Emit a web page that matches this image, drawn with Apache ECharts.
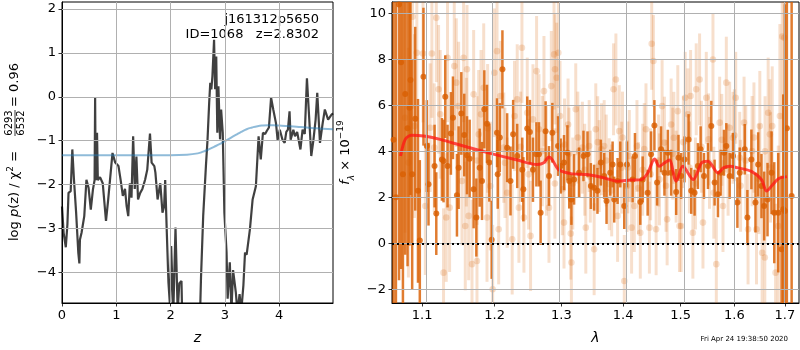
<!DOCTYPE html>
<html><head><meta charset="utf-8">
<script src="https://cdn.jsdelivr.net/npm/echarts@6/dist/echarts.min.js"></script>
<style>html,body{margin:0;padding:0;background:#fff}#c{width:800px;height:350px}</style>
</head><body><div id="c"></div>
<script>
// ---------- left panel: log p(z) ----------
const zValues = [0.00,0.03,0.07,0.10,0.12,0.16,0.19,0.22,0.26,0.30,0.32,0.33,0.36,0.41,0.45,0.49,0.53,0.57,0.60,0.61,0.62,0.645,0.66,0.70,0.75,0.81,0.85,0.93,0.98,1.04,1.08,1.12,1.16,1.19,1.22,1.25,1.28,1.31,1.34,1.37,1.40,1.44,1.48,1.53,1.57,1.62,1.65,1.70,1.72,1.76,1.81,1.85,1.88,1.90,1.93,1.96,1.99,2.01,2.05,2.09,2.13,2.16,2.20,2.23,2.52,2.56,2.60,2.65,2.68,2.71,2.73,2.75,2.77,2.80,2.82,2.84,2.86,2.88,2.91,2.93,2.96,2.99,3.03,3.05,3.09,3.12,3.15,3.20,3.23,3.27,3.30,3.34,3.37,3.40,3.46,3.51,3.57,3.62,3.66,3.70,3.74,3.77,3.81,3.85,3.89,3.94,3.97,4.01,4.06,4.10,4.13,4.16,4.19,4.21,4.26,4.29,4.33,4.39,4.43,4.47,4.51,4.55,4.59,4.63,4.67,4.70,4.75,4.80,4.84,4.90,4.96,4.99];
const logPz = [-2.5,-3.1,-3.43,-2.9,-2.19,-2.15,-1.2,-1.88,-2.64,-3.55,-3.8,-3.26,-3.1,-2.72,-1.89,-2.08,-2.57,-2.11,-1.9,-0.03,-1.9,-0.82,-1.9,-1.83,-1.97,-2.83,-2.35,-1.28,-1.5,-1.58,-1.9,-2.26,-2.1,-2.49,-2.72,-1.97,-2.3,-0.9,-2.1,-1.36,-2.34,-2.19,-2.1,-1.89,-1.66,-0.84,-1.5,-1.58,-1.73,-2.34,-1.97,-2.64,-2.5,-1.9,-3.1,-4.23,-4.8,-3.4,-4.9,-2.98,-4.9,-4.25,-4.2,-6,-6,-4.1,-2.71,-1.58,-0.97,-0.14,0.32,0.17,0.47,1.30,0.17,0.92,-0.82,0.24,-0.97,-0.29,-0.82,-2.64,-3.55,-4.6,-3.77,-4.9,-3.95,-4.45,-4.9,-4.5,-4.9,-4.3,-3.55,-3.6,-3.02,-2.34,-2.04,-0.9,-1.43,-0.82,-0.85,-0.78,-0.7,-0.02,-0.29,-0.6,-0.98,-0.75,-0.98,-1.05,-0.8,-0.75,-0.33,-0.98,-0.75,-0.9,-0.8,-1.2,-0.75,-0.85,0.42,-0.45,-1.35,-0.98,-0.52,0.09,-1.05,-0.6,-0.29,-0.52,-0.41,-0.38];
const zPrior = [0,0.5,1,1.5,2,2.3,2.5,2.6,2.7,2.8,2.9,3.0,3.1,3.2,3.3,3.4,3.5,3.6,3.7,3.8,3.9,4.0,4.2,4.4,4.6,4.8,4.99];
const logPrior = [-1.33,-1.33,-1.33,-1.33,-1.33,-1.32,-1.29,-1.25,-1.2,-1.14,-1.08,-1.01,-0.94,-0.87,-0.8,-0.74,-0.7,-0.67,-0.655,-0.65,-0.65,-0.655,-0.67,-0.69,-0.71,-0.73,-0.74];
const zTicks = [0,1,2,3,4];
const pzTicks = [-4,-3,-2,-1,0,1,2];

// ---------- right panel: spectrum ----------
const lamTicks = [1.1,1.2,1.3,1.4,1.5,1.6,1.7];
const fluxTicks = [-2,0,2,4,6,8,10];
const darkLam = [1.063,1.066,1.070,1.0726,1.075,1.078,1.081,1.0835,1.0848,1.087,1.0910,1.0946,1.097,1.1018,1.1063,1.1085,1.1166,1.1189,1.1265,1.1287,1.1310,1.1341,1.1387,1.1415,1.1470,1.1493,1.1530,1.1571,1.1609,1.1646,1.1702,1.1740,1.1787,1.1820,1.1853,1.1891,1.1924,1.1958,1.2035,1.2045,1.2075,1.2113,1.2182,1.2231,1.2270,1.2330,1.2405,1.2421,1.2479,1.2519,1.2565,1.2617,1.2656,1.2681,1.2757,1.2809,1.2861,1.2949,1.2990,1.3042,1.3095,1.3124,1.3158,1.3201,1.3280,1.3350,1.3415,1.3469,1.3522,1.3576,1.3631,1.3686,1.3725,1.3786,1.3825,1.3852,1.3908,1.3953,1.4020,1.4065,1.4161,1.4201,1.4292,1.4333,1.4419,1.4478,1.4536,1.4583,1.4653,1.4712,1.4772,1.4831,1.4921,1.4962,1.5010,1.5071,1.5144,1.5193,1.5254,1.5315,1.5365,1.5427,1.5501,1.5563,1.5625,1.5688,1.5739,1.5802,1.5846,1.5910,1.5974,1.6058,1.6103,1.6200,1.6252,1.6330,1.6410,1.6463,1.6529,1.6582,1.6649,1.6730,1.6784,1.6865,1.6932,1.6966,1.7000,1.7040,1.7138];
const darkFlux = [4.5,2.0,10.39,7.88,3.0,6.5,5.0,5.9,7.1,3.0,5.42,2.28,0.12,7.25,4.23,2.57,3.36,1.29,3.65,3.58,6.38,3.36,4.78,5.46,2.09,3.29,5.65,4.71,3.83,3.68,2.35,1.12,3.29,2.71,5.83,5.2,3.51,0.15,4.81,3.0,4.6,7.57,4.16,2.71,4.74,3.8,3.2,2.35,4.99,4.84,3.2,3.87,3.87,1.33,4.88,2.93,4.81,4.23,3.36,3.51,3.94,2.71,1.9,2.78,3.07,3.8,3.87,2.49,2.42,2.28,3.51,2.93,1.84,3.07,3.43,1.9,2.71,3.43,1.62,3.43,2.78,3.8,1.8,2.78,2.2,3.87,5.13,2.64,4.09,3.07,3.94,3.07,2.23,3.72,2.93,3.65,4.52,2.28,2.2,3.36,4.09,2.93,3.36,5.1,2.64,2.13,3.07,3.94,4.23,2.93,3.8,1.77,3.07,4.09,1.12,3.65,1.77,3.43,2.49,1.62,1.9,3.07,1.33,1.33,-0.26,1.48,1.4,5.0,2.06];
const darkErr = [9,9,12,9,8,7,6,6,5,5,4,4,3.5,3,2,1.8,1.8,1.8,1.8,1.8,1.8,1.8,1.8,1.8,1.8,1.8,1.8,1.8,1.7,1.7,1.7,1.7,1.7,1.7,1.7,1.7,1.7,1.7,1.5,1.5,1.5,1.7,1.5,1.5,1.5,1.4,1.4,1.4,1.4,1.4,1.4,1.4,1.4,1.4,1.3,1.3,1.3,1.3,1.2,1.2,1.2,1.2,1.1,1.1,1.1,1.1,1.0,1.0,1.0,1.0,1.0,1.0,1.0,1.0,1.0,1.0,1.0,1.0,1.0,1.0,1.0,1.0,1.0,1.0,1.0,1.0,1.1,1.0,1.0,1.0,1.0,1.0,1.0,1.0,1.0,1.0,1.1,1.0,1.0,1.0,1.0,1.0,1.0,1.1,1.0,1.0,1.0,1.0,1.0,1.0,1.0,1.1,1.1,1.1,1.2,1.3,1.3,1.4,1.4,1.5,1.6,1.8,2.2,2.6,3.2,5,9,12,12,10];
const lightLam = [1.0777,1.0821,1.0874,1.0900,1.0931,1.1012,1.1043,1.1107,1.1130,1.1162,1.1189,1.1220,1.1242,1.1287,1.1323,1.1341,1.1369,1.1433,1.1461,1.1493,1.1539,1.1562,1.1585,1.1609,1.1632,1.1679,1.1702,1.1749,1.1773,1.1806,1.1844,1.1891,1.1939,1.1972,1.1996,1.2035,1.2059,1.2084,1.2133,1.2182,1.2256,1.2290,1.2330,1.2355,1.2400,1.2430,1.2479,1.2529,1.2565,1.2620,1.2656,1.2707,1.2732,1.2809,1.2845,1.2887,1.2902,1.2928,1.2954,1.2980,1.3016,1.3042,1.3106,1.3148,1.3158,1.3227,1.3280,1.3333,1.3388,1.3442,1.3522,1.3549,1.3604,1.3642,1.3686,1.3769,1.3841,1.3880,1.3908,1.3936,1.3976,1.4020,1.4065,1.4105,1.4144,1.4190,1.4235,1.4292,1.4333,1.4390,1.4449,1.4489,1.4519,1.4566,1.4624,1.4671,1.4712,1.4760,1.4831,1.4879,1.4950,1.4980,1.5010,1.5083,1.5132,1.5181,1.5223,1.5284,1.5346,1.5408,1.5470,1.5513,1.5594,1.5657,1.5720,1.5783,1.5846,1.5910,1.5974,1.6026,1.6103,1.6187,1.6265,1.6344,1.6430,1.6496,1.6542,1.6595,1.6662,1.6696,1.6743,1.6811,1.6865,1.6898,1.6946,1.6987,
  1.160,1.175,1.190,1.215,1.238,1.250,1.277,1.290,1.305,1.312,1.318,1.326,1.337,1.346,1.358,1.372,1.381,1.399,1.408,1.426,1.436,1.447,1.461,1.474,1.486,1.492,1.505,1.516,1.527,1.538,1.553,1.561,1.576,1.588,1.600,1.612,1.622,1.638,1.648,1.660,1.671];
const lightFlux = [5.46,3.51,9.86,5.1,8.29,8.26,1.62,5.03,8.26,4.16,9.81,6.7,5.61,-1.28,1.12,8.07,1.55,7.71,6.99,5.97,2.71,8.07,0.75,7.57,1.19,-0.91,6.48,-0.77,4.74,5.61,6.77,1.12,2.49,-2.0,7.42,8.36,0.61,6.41,4.16,2.2,0.17,5.54,6.26,1.55,8.51,1.12,5.68,0.32,5.39,7.49,4.96,4.01,6.62,1.55,6.84,8.22,7.57,7.2,8.29,5.54,2.35,0.9,5.17,0.42,-0.84,5.83,4.01,4.16,0.68,4.23,-0.26,4.96,3.36,4.09,4.23,2.57,6.7,7.13,1.19,4.88,3.29,-1.64,2.49,3.8,0.68,1.62,4.23,0.46,3.2,4.96,0.68,8.68,7.93,0.61,2.78,5.97,4.38,1.04,5.17,4.59,5.75,0.75,0.75,6.33,5.61,6.41,0.46,6.7,7.13,0.9,6.33,4.52,8.0,-0.91,5.25,1.62,6.99,5.03,4.59,6.33,3.72,5.25,0.61,4.01,0.61,5.1,-0.41,-0.62,5.68,4.74,5.1,-1.28,0.75,5.54,9.0,8.94,
  4.4,3.6,5.0,3.5,4.2,3.0,3.6,2.6,4.3,3.9,2.6,4.6,3.2,2.9,4.4,3.6,2.3,4.6,3.3,2.4,4.1,3.0,3.6,2.5,3.9,2.9,4.4,3.3,2.6,4.2,3.5,2.2,4.5,3.2,4.7,2.5,3.6,4.6,2.8,4.0,3.3];
const lightErr = [5,5,4,4,3,3,3,2.8,2.8,2.8,2.8,2.8,2.8,2.8,2.8,2.8,2.8,2.8,2.8,2.8,2.8,2.8,2.8,2.8,2.8,2.8,2.8,2.8,2.8,2.8,2.8,2.8,2.8,2.8,2.8,2.4,2.4,2.4,2.4,2.4,2.4,2.4,2.4,2.4,2.4,2.4,2.4,2.4,2.4,2.4,2.4,2.4,2.4,2.4,2.4,2.4,2.4,2.4,2.4,2.4,2.0,2.0,2.0,2.0,2.0,2.0,2.0,2.0,2.0,2.0,2.0,2.0,2.0,2.0,2.0,2.0,2.0,2.0,2.0,2.0,2.0,2.0,2.0,2.0,2.0,2.0,2.0,2.0,2.0,2.0,2.0,2.0,2.0,2.0,2.0,2.0,2.0,2.0,2.0,2.0,2.0,2.0,2.0,2.0,2.0,2.0,2.0,2.0,2.0,2.0,2.0,2.0,2.0,2.0,2.0,2.0,2.0,2.0,2.0,2.0,2.0,2.0,2.4,2.4,2.4,2.4,2.4,2.4,2.4,2.4,2.6,3,3.5,4,5,6,
  2.8,2.8,2.8,2.4,2.4,2.4,2.4,2.4,2.0,2.0,2.0,2.0,2.0,2.0,2.0,2.0,2.0,2.0,2.0,2.0,2.0,2.0,2.0,2.0,2.0,2.0,2.0,2.0,2.0,2.0,2.0,2.0,2.0,2.0,2.0,2.0,2.4,2.4,2.4,2.4,2.4];
const modelLam = [1.072,1.078,1.086,1.102,1.124,1.156,1.194,1.233,1.263,1.273,1.281,1.286,1.296,1.315,1.341,1.369,1.391,1.413,1.431,1.442,1.454,1.462,1.471,1.480,1.492,1.504,1.523,1.538,1.550,1.569,1.579,1.591,1.607,1.633,1.653,1.663,1.673,1.687,1.704];
const modelFlux = [3.80,4.52,4.70,4.67,4.52,4.23,3.91,3.62,3.43,3.50,3.75,3.63,3.20,3.03,2.99,2.84,2.70,2.75,2.77,3.06,3.67,3.35,3.49,3.62,2.70,3.35,2.77,3.49,3.57,3.06,3.28,3.35,3.28,3.13,2.77,2.27,2.49,2.81,2.90];

const FONT = 'DejaVu Sans';
const minus = v => (v < 0 ? '\u2212' + Math.abs(v) : String(v));

function errRender(barW, radius, color) {
  return function (params, api) {
    const x = api.value(0), y = api.value(1), e = api.value(2);
    const top = api.coord([x, y + e]);
    const bot = api.coord([x, y - e]);
    const ctr = api.coord([x, y]);
    const cs = params.coordSys;
    const clip = { x: cs.x, y: cs.y, width: cs.width, height: cs.height };
    const rect = echarts.graphic.clipRectByRect(
      { x: top[0] - barW / 2, y: top[1], width: barW, height: bot[1] - top[1] }, clip);
    const children = [];
    if (rect) children.push({ type: 'rect', shape: rect, style: { fill: color } });
    if (ctr[1] >= cs.y && ctr[1] <= cs.y + cs.height)
      children.push({ type: 'circle', shape: { cx: ctr[0], cy: ctr[1], r: radius }, style: { fill: color } });
    return { type: 'group', children };
  };
}

const axisCommon = {
  axisLine: { show: true, onZero: false, lineStyle: { color: '#000', width: 1 } },
  axisTick: { show: true, length: 3.5, lineStyle: { color: '#000', width: 0.8 } },
  splitLine: { show: false },
  axisLabel: { color: '#000', fontFamily: FONT, fontSize: 13, margin: 6 }
};
const gridLineStyle = { color: '#b0b0b0', width: 1, type: 'solid' };

const chart = echarts.init(document.getElementById('c'), null, { renderer: 'canvas' });
const option = {
  animation: false,
  backgroundColor: '#fff',
  grid: [
    { left: 62, top: 2, width: 271, height: 302, show: true, borderColor: '#000', borderWidth: 1, backgroundColor: 'transparent' },
    { left: 392, top: 2, width: 407, height: 302, show: true, borderColor: '#000', borderWidth: 1, backgroundColor: 'transparent' }
  ],
  xAxis: [
    Object.assign({}, axisCommon, {
      type: 'value', gridIndex: 0, min: 0, max: 4.99,
      axisLabel: Object.assign({}, axisCommon.axisLabel, { customValues: zTicks, formatter: minus }),
      axisTick: Object.assign({}, axisCommon.axisTick, { customValues: zTicks }),
      name: 'z', nameLocation: 'middle', nameGap: 28,
      nameTextStyle: { fontFamily: FONT, fontSize: 14, fontStyle: 'italic', color: '#000' }
    }),
    Object.assign({}, axisCommon, {
      type: 'value', gridIndex: 1, min: Math.log(1.061), max: Math.log(1.729),
      axisLabel: Object.assign({}, axisCommon.axisLabel, { customValues: lamTicks.map(Math.log), formatter: v => Math.exp(v).toFixed(1) }),
      axisTick: Object.assign({}, axisCommon.axisTick, { customValues: lamTicks.map(Math.log) }),
      name: 'λ', nameLocation: 'middle', nameGap: 28,
      nameTextStyle: { fontFamily: FONT, fontSize: 14, fontStyle: 'italic', color: '#000' }
    })
  ],
  yAxis: [
    Object.assign({}, axisCommon, {
      type: 'value', gridIndex: 0, min: -4.7, max: 2.16,
      axisLabel: Object.assign({}, axisCommon.axisLabel, { customValues: pzTicks, formatter: minus }),
      axisTick: Object.assign({}, axisCommon.axisTick, { customValues: pzTicks })
    }),
    Object.assign({}, axisCommon, {
      type: 'value', gridIndex: 1, min: -2.6, max: 10.5,
      axisLabel: Object.assign({}, axisCommon.axisLabel, { customValues: fluxTicks, formatter: minus }),
      axisTick: Object.assign({}, axisCommon.axisTick, { customValues: fluxTicks }),
      name: '{i|f}{sub|λ}{n| × 10}{sup|\u221219}', nameLocation: 'middle', nameRotate: 90, nameGap: 34,
      nameTextStyle: {
        color: '#000', fontFamily: FONT,
        rich: {
          i: { fontFamily: FONT, fontSize: 13, fontStyle: 'italic', color: '#000', lineHeight: 20, verticalAlign: 'middle' },
          n: { fontFamily: FONT, fontSize: 13, color: '#000', lineHeight: 20, verticalAlign: 'middle' },
          sub: { fontFamily: FONT, fontSize: 9, fontStyle: 'italic', color: '#000', lineHeight: 9, verticalAlign: 'bottom' },
          sup: { fontFamily: FONT, fontSize: 9, color: '#000', lineHeight: 9, verticalAlign: 'top' }
        }
      }
    })
  ],
  series: [
    { type: 'line', xAxisIndex: 0, yAxisIndex: 0, data: [], z: 1, silent: true,
      markLine: { silent: true, symbol: 'none', label: { show: false }, lineStyle: gridLineStyle, animation: false,
        data: zTicks.filter(v => v > 0).map(v => ({ xAxis: v })).concat(pzTicks.map(v => ({ yAxis: v }))) } },
    { type: 'line', xAxisIndex: 1, yAxisIndex: 1, data: [], z: 1, silent: true,
      markLine: { silent: true, symbol: 'none', label: { show: false }, lineStyle: gridLineStyle, animation: false,
        data: lamTicks.map(v => ({ xAxis: Math.log(v) })).concat(fluxTicks.map(v => ({ yAxis: v }))) } },
    { type: 'line', xAxisIndex: 0, yAxisIndex: 0, data: zValues.map((z, i) => [z, logPz[i]]),
      showSymbol: false, clip: true, lineStyle: { color: 'rgba(0,0,0,0.75)', width: 2.2 }, z: 2 },
    { type: 'line', xAxisIndex: 0, yAxisIndex: 0, data: zPrior.map((z, i) => [z, logPrior[i]]),
      showSymbol: false, smooth: true, clip: true, lineStyle: { color: 'rgba(31,119,180,0.5)', width: 2 }, z: 3 },
    { type: 'custom', xAxisIndex: 1, yAxisIndex: 1, encode: { x: 0, y: 1 },
      data: lightLam.map((l, i) => [Math.log(l), lightFlux[i], lightErr[i]]),
      renderItem: errRender(3, 3.3, 'rgba(217,95,2,0.2)'), z: 2 },
    { type: 'custom', xAxisIndex: 1, yAxisIndex: 1, encode: { x: 0, y: 1 },
      data: darkLam.map((l, i) => [Math.log(l), darkFlux[i], darkErr[i]]),
      renderItem: errRender(2.5, 3, 'rgba(217,95,2,0.82)'), z: 3 },
    { type: 'line', xAxisIndex: 1, yAxisIndex: 1, data: modelLam.map((l, i) => [Math.log(l), modelFlux[i]]),
      showSymbol: false, smooth: 0.3, clip: true, lineStyle: { color: 'rgba(255,20,20,0.75)', width: 3 }, z: 4,
      markLine: { silent: true, symbol: 'none', label: { show: false },
        lineStyle: { color: '#000', type: [2, 3], width: 2 }, data: [{ yAxis: 0 }] } }
  ],
  graphic: { elements: [
    { type: 'text', x: 319, y: 20, style: { text: 'j161312p5650', font: '13px "DejaVu Sans"', fill: '#000', align: 'right', verticalAlign: 'middle', textAlign: 'right', textVerticalAlign: 'middle' } },
    { type: 'text', x: 319, y: 35, style: { text: 'ID=1068   z=2.8302', font: '13px "DejaVu Sans"', fill: '#000', align: 'right', verticalAlign: 'middle', textAlign: 'right', textVerticalAlign: 'middle' } },
    { type: 'text', x: 788, y: 339, style: { text: 'Fri Apr 24 19:38:50 2020', font: '7px "DejaVu Sans"', fill: '#000', align: 'right', verticalAlign: 'middle', textAlign: 'right', textVerticalAlign: 'middle' } },
    { type: 'group', x: 15, y: 153, rotation: Math.PI / 2, children: [
      { type: 'text', x: -88, y: 0, style: {
          text: '{n|log }{i|p}{n|(z) / χ}{s|2}{n| =}', fill: '#000', align: 'left', verticalAlign: 'middle', textAlign: 'left', textVerticalAlign: 'middle',
          rich: {
            n: { font: '13px "DejaVu Sans"', fill: '#000', lineHeight: 18, verticalAlign: 'middle' },
            i: { font: 'italic 13px "DejaVu Sans"', fill: '#000', lineHeight: 18, verticalAlign: 'middle' },
            s: { font: '9px "DejaVu Sans"', fill: '#000', lineHeight: 9, verticalAlign: 'top' }
          } } },
      { type: 'text', x: 30, y: -6, style: { text: '6293', font: '10px "DejaVu Sans"', fill: '#000', align: 'center', verticalAlign: 'middle', textAlign: 'center', textVerticalAlign: 'middle' } },
      { type: 'text', x: 30, y: 6, style: { text: '6532', font: '10px "DejaVu Sans"', fill: '#000', align: 'center', verticalAlign: 'middle', textAlign: 'center', textVerticalAlign: 'middle' } },
      { type: 'line', shape: { x1: 17, y1: 0, x2: 43, y2: 0 }, style: { stroke: '#000', lineWidth: 0.8 } },
      { type: 'text', x: 46, y: 0, style: { text: '= 0.96', font: '13px "DejaVu Sans"', fill: '#000', align: 'left', verticalAlign: 'middle', textAlign: 'left', textVerticalAlign: 'middle' } }
    ] }
  ] }
};
chart.setOption(option);
</script>
</body></html>
